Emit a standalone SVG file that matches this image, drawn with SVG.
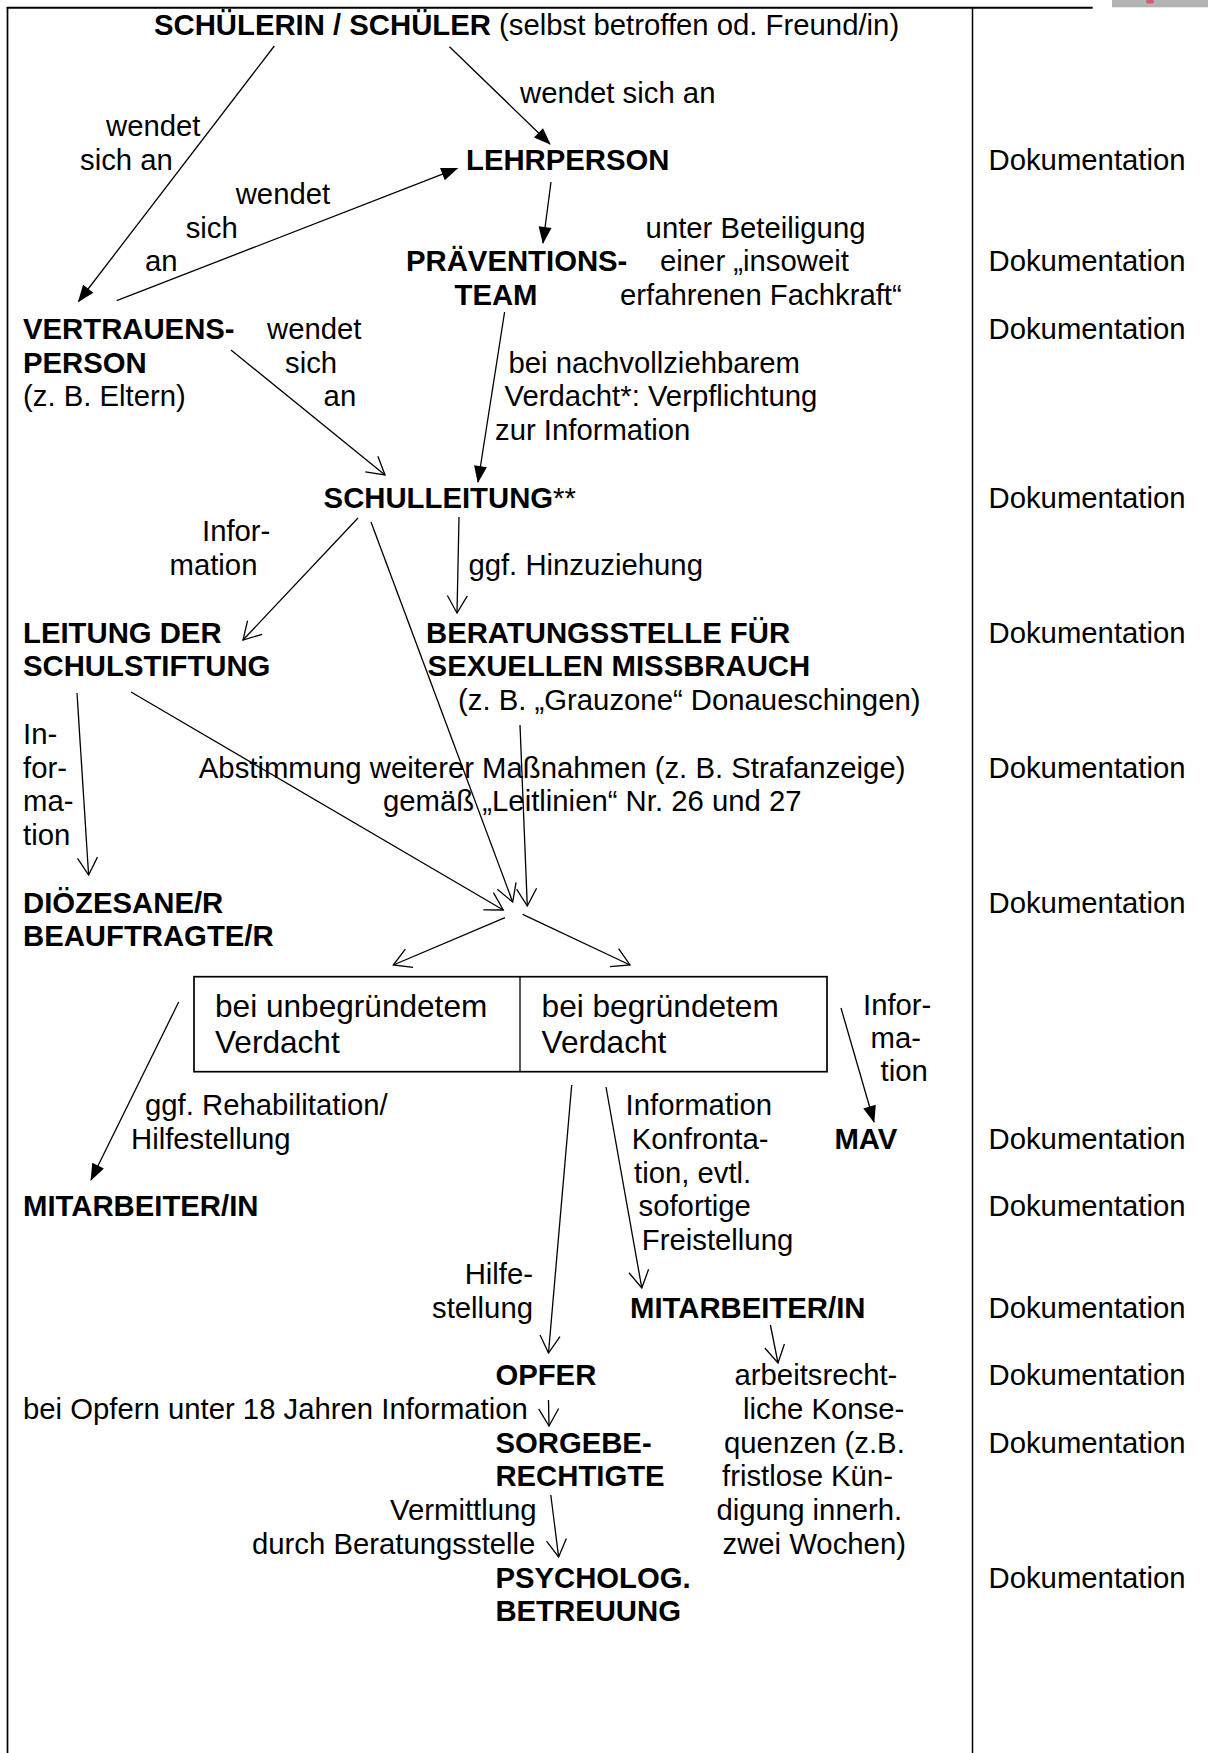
<svg xmlns="http://www.w3.org/2000/svg" width="1208" height="1753" viewBox="0 0 1208 1753">
<style>
text{font-family:"Liberation Sans",Arial,sans-serif;font-size:29.3px;fill:#000}
.b{font-weight:bold}
.box{font-size:31.6px}
.cf{fill:none;stroke:#000;stroke-width:1.3;marker-end:url(#af)}
.co{fill:none;stroke:#000;stroke-width:1.3;marker-end:url(#ao)}
.frame{fill:none;stroke:#000}
</style>
<defs>
<marker id="af" markerUnits="userSpaceOnUse" markerWidth="18" markerHeight="14" refX="16" refY="6.5" orient="auto" overflow="visible">
<path d="M0,0 L17,6.5 L0,13 z" fill="#000"/>
</marker>
<marker id="ao" markerUnits="userSpaceOnUse" markerWidth="20" markerHeight="22" refX="17.3" refY="10" orient="auto" overflow="visible">
<path d="M0,0 L17.3,10 L0,20" fill="none" stroke="#000" stroke-width="1.3"/>
</marker>
</defs>
<rect width="1208" height="1753" fill="#fff"/>
<g id="frame">
<line class="frame" x1="6.7" y1="7.7" x2="1092.7" y2="7.7" stroke-width="2"/>
<line class="frame" x1="7.5" y1="7" x2="7.5" y2="1753" stroke-width="1.7"/>
<line class="frame" x1="972.5" y1="7.7" x2="972.5" y2="1753" stroke-width="1.5"/>
<rect x="1112" y="0" width="96" height="7.3" fill="#b2b2b2"/>
<ellipse cx="1150" cy="1.5" rx="4" ry="2.2" fill="#d0606e"/>
</g>
<g id="connectors">
<line class="cf" x1="274.3" y1="46" x2="78.5" y2="301.5"/>
<line class="cf" x1="449.5" y1="46.7" x2="550" y2="144"/>
<line class="cf" x1="116.7" y1="300.7" x2="457.3" y2="168.3"/>
<line class="cf" x1="551" y1="182" x2="543" y2="243"/>
<line class="co" x1="231" y1="350" x2="385" y2="475"/>
<line class="cf" x1="504.6" y1="312" x2="478" y2="482"/>
<line class="co" x1="358" y1="518" x2="243" y2="640"/>
<line class="co" x1="371" y1="522" x2="512.7" y2="902"/>
<line class="co" x1="459" y1="517" x2="457" y2="613"/>
<line class="co" x1="77" y1="693" x2="88.6" y2="875"/>
<line class="co" x1="131" y1="692" x2="503.3" y2="910"/>
<line class="co" x1="520" y1="725" x2="527.3" y2="906"/>
<line class="co" x1="505" y1="917.7" x2="393.3" y2="965"/>
<line class="co" x1="522.7" y1="914.3" x2="630" y2="965"/>
<line class="cf" x1="178.7" y1="1002" x2="91" y2="1180"/>
<line class="cf" x1="841" y1="1008" x2="874" y2="1122"/>
<line class="co" x1="571.7" y1="1085" x2="548.5" y2="1353"/>
<line class="co" x1="606" y1="1087" x2="641.8" y2="1288"/>
<line class="co" x1="770.4" y1="1325" x2="778" y2="1363"/>
<line class="co" x1="548.5" y1="1400" x2="549" y2="1426"/>
<line class="co" x1="550.8" y1="1495" x2="558.6" y2="1557"/>
</g>
<g id="labels">
<text x="520" y="103">wendet sich an</text>
<text x="106" y="136">wendet</text>
<text x="80" y="170">sich an</text>
<text x="235.7" y="204">wendet</text>
<text x="185.7" y="238">sich</text>
<text x="145" y="271">an</text>
<text x="645.6" y="238">unter Beteiligung</text>
<text x="660" y="271">einer „insoweit</text>
<text x="620" y="305">erfahrenen Fachkraft“</text>
<text x="267" y="339">wendet</text>
<text x="285" y="372.5">sich</text>
<text x="323.6" y="406">an</text>
<text x="508.5" y="372.5">bei nachvollziehbarem</text>
<text x="504.6" y="406">Verdacht*: Verpflichtung</text>
<text x="495" y="440">zur Information</text>
<text x="202" y="541">Infor-</text>
<text x="169.5" y="575">mation</text>
<text x="468.4" y="575">ggf. Hinzuziehung</text>
<text x="23" y="743.75">In-</text>
<text x="23" y="777.5">for-</text>
<text x="23" y="811">ma-</text>
<text x="23" y="845">tion</text>
<text x="863" y="1015">Infor-</text>
<text x="870.6" y="1048">ma-</text>
<text x="880.6" y="1081">tion</text>
<text x="145" y="1115">ggf. Rehabilitation/</text>
<text x="131" y="1148.75">Hilfestellung</text>
<text x="625.6" y="1115">Information</text>
<text x="631.7" y="1148.75">Konfronta-</text>
<text x="634" y="1182.5">tion, evtl.</text>
<text x="638.5" y="1216.25">sofortige</text>
<text x="641.8" y="1250">Freistellung</text>
<text x="533" y="1283.75" text-anchor="end">Hilfe-</text>
<text x="533" y="1317.5" text-anchor="end">stellung</text>
<text x="23" y="1418.75">bei Opfern unter 18 Jahren Information</text>
<text x="390" y="1520">Vermittlung</text>
<text x="252" y="1553.75">durch Beratungsstelle</text>
</g>
<g id="schueler"><text x="154" y="35"><tspan class="b">SCHÜLERIN / SCHÜLER</tspan> (selbst betroffen od. Freund/in)</text></g>
<g id="lehrperson"><text class="b" x="466" y="170">LEHRPERSON</text></g>
<g id="praeventionsteam"><text class="b" x="406" y="271">PRÄVENTIONS-</text><text class="b" x="454.5" y="305">TEAM</text></g>
<g id="vertrauensperson"><text class="b" x="23" y="339">VERTRAUENS-</text><text class="b" x="23" y="372.5">PERSON</text><text x="23" y="406">(z. B. Eltern)</text></g>
<g id="schulleitung"><text x="323.6" y="507.5"><tspan class="b">SCHULLEITUNG</tspan>**</text></g>
<g id="leitung"><text class="b" x="23" y="642.5">LEITUNG DER</text><text class="b" x="23" y="676">SCHULSTIFTUNG</text></g>
<g id="beratungsstelle"><text class="b" x="426" y="642.5">BERATUNGSSTELLE FÜR</text><text class="b" x="427.6" y="676">SEXUELLEN MISSBRAUCH</text><text x="458" y="710">(z. B. „Grauzone“ Donaueschingen)</text></g>
<g id="abstimmung"><text x="198.8" y="777.5">Abstimmung weiterer Maßnahmen (z. B. Strafanzeige)</text><text x="383" y="811">gemäß „Leitlinien“ Nr. 26 und 27</text></g>
<g id="dioezesan"><text class="b" x="23" y="912.5">DIÖZESANE/R</text><text class="b" x="23" y="946">BEAUFTRAGTE/R</text></g>
<g id="verdacht">
<rect x="194" y="976.7" width="633" height="95" fill="none" stroke="#000" stroke-width="1.7"/>
<line x1="520" y1="976.7" x2="520" y2="1071.7" stroke="#000" stroke-width="1.3"/>
<text class="box" x="215" y="1017">bei unbegründetem</text>
<text class="box" x="215" y="1053">Verdacht</text>
<text class="box" x="541.6" y="1017">bei begründetem</text>
<text class="box" x="541.6" y="1053">Verdacht</text>
</g>
<g id="mav"><text class="b" x="834.4" y="1148.75">MAV</text></g>
<g id="mitarbeiter1"><text class="b" x="23" y="1216.25">MITARBEITER/IN</text></g>
<g id="mitarbeiter2"><text class="b" x="630" y="1317.5">MITARBEITER/IN</text></g>
<g id="konsequenzen">
<text x="734.5" y="1385">arbeitsrecht-</text>
<text x="743" y="1418.75">liche Konse-</text>
<text x="724" y="1452.5">quenzen (z.B.</text>
<text x="722" y="1486.25">fristlose Kün-</text>
<text x="716.5" y="1520">digung innerh.</text>
<text x="722.5" y="1553.75">zwei Wochen)</text>
</g>
<g id="opfer"><text class="b" x="495.4" y="1385">OPFER</text></g>
<g id="sorgeberechtigte"><text class="b" x="495.4" y="1452.5">SORGEBE-</text><text class="b" x="495.4" y="1486.25">RECHTIGTE</text></g>
<g id="psycholog"><text class="b" x="495.4" y="1587.5">PSYCHOLOG.</text><text class="b" x="495.4" y="1621.25">BETREUUNG</text></g>
<g id="dokumentation">
<text x="988.5" y="170">Dokumentation</text>
<text x="988.5" y="271.25">Dokumentation</text>
<text x="988.5" y="338.75">Dokumentation</text>
<text x="988.5" y="507.5">Dokumentation</text>
<text x="988.5" y="642.5">Dokumentation</text>
<text x="988.5" y="777.5">Dokumentation</text>
<text x="988.5" y="912.5">Dokumentation</text>
<text x="988.5" y="1148.75">Dokumentation</text>
<text x="988.5" y="1216.25">Dokumentation</text>
<text x="988.5" y="1317.5">Dokumentation</text>
<text x="988.5" y="1385">Dokumentation</text>
<text x="988.5" y="1452.5">Dokumentation</text>
<text x="988.5" y="1587.5">Dokumentation</text>
</g>
</svg>
